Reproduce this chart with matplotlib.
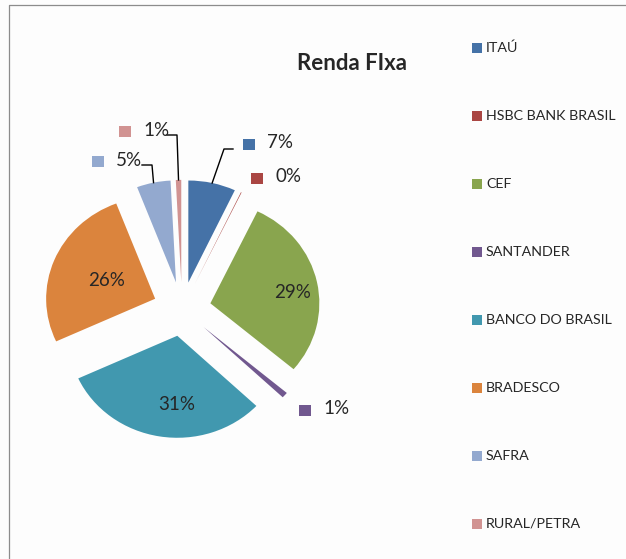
import matplotlib
matplotlib.use('Agg')
import numpy as np
import matplotlib.pyplot as plt
from matplotlib.lines import Line2D
from matplotlib.patches import Rectangle

plt.rcParams['font.family'] = ['Lato', 'DejaVu Sans']

# dados
bancos = ['ITAÚ', 'HSBC BANK BRASIL', 'CEF', 'SANTANDER',
          'BANCO DO BRASIL', 'BRADESCO', 'SAFRA', 'RURAL/PETRA']
valores = [7, 0.1, 29, 0.9, 31, 26, 5, 0.8]
cores = ['#4572A7', '#AA4643', '#89A54E', '#71588F',
         '#4198AF', '#DB843D', '#93A9CF', '#D19392']
titulo = 'Renda FIxa'

# layout em pixels da imagem
W, H = 626, 559
CX, CY, RX, RY = 182, 309, 109, 102   # centro e raios da pizza (ligeiramente esticada)

# rotulos: (x, y) do texto; 'in' = dentro da fatia, 'out' = com quadradinho
rot_pos = [(267, 143), (275, 177), (293, 292), (323, 409),
           (177, 404), (107, 280), (116, 160), (143, 130)]
rot_tipo = ['out', 'out', 'in', 'out', 'in', 'in', 'out', 'out']
# linhas de chamada: indice -> (cotovelo, fim)
chamadas = {0: ((224, 149), (233, 149)),
            6: ((152, 165), (142, 165)),
            7: ((177, 135), (167, 135))}

cor_texto = '#262626'


def px(x, y):
    return ((x - CX) / RX, (CY - y) / RY)


fig = plt.figure(figsize=(W / 100, H / 100), dpi=100, facecolor='#fdfdfd')
ax = fig.add_axes([0, 0, 1, 1])
ax.set_facecolor('#fdfdfd')

wedges, _ = ax.pie(valores, colors=cores, startangle=90, counterclock=False,
                   explode=[0.266] * len(valores),
                   wedgeprops=dict(linewidth=0))
ax.set_aspect('auto')
ax.set_xlim(px(0, 0)[0], px(W, 0)[0])
ax.set_ylim(px(0, H)[1], px(0, 0)[1])
ax.axis('off')

total = sum(valores)
pct = [f'{round(v / total * 100):.0f}%' for v in valores]

for i, w in enumerate(wedges):
    x, y = rot_pos[i]
    if rot_tipo[i] == 'in':
        ax.text(*px(x, y), pct[i], ha='center', va='center',
                fontsize=13.5, color=cor_texto)
    else:
        ax.text(*px(x, y), pct[i], ha='left', va='center',
                fontsize=13.5, color=cor_texto)
        ax.add_patch(Rectangle(px(x - 24, y + 7), 12 / RX, 11 / RY,
                               color=cores[i], lw=0))
    if i in chamadas:
        th = np.deg2rad((w.theta1 + w.theta2) / 2)
        a = (w.center[0] + np.cos(th) * w.r, w.center[1] + np.sin(th) * w.r)
        cot, fim = chamadas[i]
        xs = [a[0], px(*cot)[0], px(*fim)[0]]
        ys = [a[1], px(*cot)[1], px(*fim)[1]]
        ax.plot(xs, ys, color='black', lw=1)

# titulo
fig.text(352 / W, 1 - 63 / H, titulo, ha='center', va='center',
         fontsize=16, fontweight='bold', color=cor_texto)

# legenda
for i, nome in enumerate(bancos):
    y = 48 + 68 * i
    fig.patches.append(Rectangle((472 / W, 1 - (y + 5) / H), 10 / W, 10 / H,
                                 transform=fig.transFigure, color=cores[i], lw=0))
    fig.text(486 / W, 1 - y / H, nome, ha='left', va='center',
             fontsize=10.3, color=cor_texto)

# borda da area do grafico
fig.add_artist(Line2D([9 / W, 9 / W, 1], [0, 1 - 5 / H, 1 - 5 / H],
                      transform=fig.transFigure, color='#8c8c8c', lw=0.9))

fig.savefig('out.png', dpi=100, facecolor=fig.get_facecolor())
